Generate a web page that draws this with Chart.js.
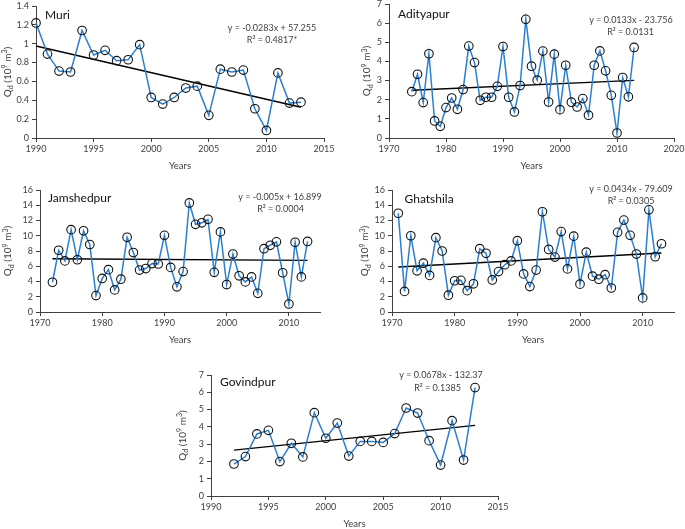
<!DOCTYPE html>
<html><head><meta charset="utf-8">
<script src="https://cdn.jsdelivr.net/npm/chart.js@4.4.1/dist/chart.umd.min.js"></script>
<style>
html,body{margin:0;padding:0;background:#fff;overflow:hidden;width:685px;height:529px;position:relative}
canvas{position:absolute}
</style></head><body>
<canvas id="c0"></canvas><canvas id="c1"></canvas><canvas id="c2"></canvas><canvas id="c3"></canvas><canvas id="c4"></canvas>
<script>
// ---------- DATA ----------
const muriYears = [1990,1991,1992,1993,1994,1995,1996,1997,1998,1999,2000,2001,2002,2003,2004,2005,2006,2007,2008,2009,2010,2011,2012,2013];
const muriQd    = [1.22,0.89,0.71,0.70,1.14,0.88,0.93,0.82,0.83,0.99,0.43,0.36,0.43,0.53,0.55,0.24,0.73,0.70,0.72,0.31,0.08,0.69,0.37,0.38];
const muriXTicks = [1990,1995,2000,2005,2010,2015];
const muriYTicks = [0,0.2,0.4,0.6,0.8,1,1.2,1.4];

const adityapurYears = [1974,1975,1976,1977,1978,1979,1980,1981,1982,1983,1984,1985,1986,1987,1988,1989,1990,1991,1992,1993,1994,1995,1996,1997,1998,1999,2000,2001,2002,2003,2004,2005,2006,2007,2008,2009,2010,2011,2012,2013];
const adityapurQd    = [2.42,3.33,1.85,4.40,0.89,0.61,1.59,2.09,1.50,2.53,4.80,3.94,1.97,2.13,2.13,2.70,4.78,2.13,1.36,2.74,6.20,3.75,3.02,4.54,1.88,4.38,1.48,3.80,1.87,1.62,2.06,1.19,3.80,4.55,3.51,2.23,0.26,3.16,2.15,4.73];
const adityapurXTicks = [1970,1980,1990,2000,2010,2020];
const adityapurYTicks = [0,1,2,3,4,5,6,7];

const jamshedpurYears = [1972,1973,1974,1975,1976,1977,1978,1979,1980,1981,1982,1983,1984,1985,1986,1987,1988,1989,1990,1991,1992,1993,1994,1995,1996,1997,1998,1999,2000,2001,2002,2003,2004,2005,2006,2007,2008,2009,2010,2011,2012,2013];
const jamshedpurQd    = [3.9,8.1,6.7,10.8,6.85,10.65,8.85,2.15,4.4,5.55,2.9,4.3,9.8,7.8,5.5,5.7,6.35,6.3,10.05,5.85,3.3,5.3,14.3,11.5,11.7,12.15,5.2,10.5,3.6,7.6,4.75,3.95,4.6,2.45,8.3,8.75,9.2,5.15,1.05,9.15,4.6,9.25];
const jamshedpurXTicks = [1970,1980,1990,2000,2010];
const jamshedpurYTicks = [0,2,4,6,8,10,12,14,16];

const ghatshilaYears = [1971,1972,1973,1974,1975,1976,1977,1978,1979,1980,1981,1982,1983,1984,1985,1986,1987,1988,1989,1990,1991,1992,1993,1994,1995,1996,1997,1998,1999,2000,2001,2002,2003,2004,2005,2006,2007,2008,2009,2010,2011,2012,2013];
const ghatshilaQd    = [12.95,2.7,10.0,5.4,6.4,4.8,9.75,8.0,2.2,4.1,4.15,2.8,3.7,8.3,7.7,4.2,5.3,6.2,6.7,9.35,5.0,3.33,5.5,13.15,8.2,7.2,10.55,5.65,9.95,3.65,7.85,4.7,4.3,4.9,3.15,10.45,12.05,10.05,7.6,1.85,13.4,7.25,8.95];
const ghatshilaXTicks = [1970,1980,1990,2000,2010];
const ghatshilaYTicks = [0,2,4,6,8,10,12,14,16];

const govindpurYears = [1992,1993,1994,1995,1996,1997,1998,1999,2000,2001,2002,2003,2004,2005,2006,2007,2008,2009,2010,2011,2012,2013];
const govindpurQd    = [1.85,2.28,3.59,3.80,1.99,3.05,2.26,4.82,3.34,4.22,2.31,3.16,3.16,3.10,3.61,5.09,4.80,3.20,1.79,4.36,2.08,6.27];
const govindpurXTicks = [1990,1995,2000,2005,2010,2015];
const govindpurYTicks = [0,1,2,3,4,5,6,7];

const stationNames = ['Muri','Adityapur','Jamshedpur','Ghatshila','Govindpur'];
const equations = ['y = -0.0283x + 57.255','y = 0.0133x - 23.756','y = -0.005x + 16.899','y = 0.0434x - 79.609','y = 0.0678x - 132.37'];
const rSquared  = ['R\u00B2 = 0.4817*','R\u00B2 = 0.0131','R\u00B2 = 0.0004','R\u00B2 = 0.0305','R\u00B2 = 0.1385'];

// ---------- STYLE / LAYOUT ----------
const FAM = 'Lato, "Liberation Sans", Arial, sans-serif';
const AX = '#404040', TC = '#404040', BLUE = '#2a7fd0';
const YW = 40, XH = 36, PT = 10, PR = 14;

function linFit(xs, ys){
  const n = xs.length; let sx=0, sy=0, sxx=0, sxy=0;
  for (let i=0;i<n;i++){ sx+=xs[i]; sy+=ys[i]; sxx+=xs[i]*xs[i]; sxy+=xs[i]*ys[i]; }
  const b = (n*sxy - sx*sy)/(n*sxx - sx*sx), a = (sy - b*sx)/n;
  return [{x:xs[0], y:a+b*xs[0]}, {x:xs[n-1], y:a+b*xs[n-1]}];
}

const textPlugin = {
  id: 'panelText',
  afterDraw(chart, args, o){
    const ctx = chart.ctx, a = chart.chartArea;
    const px = X => X - o.L + a.left, py = Y => Y - o.T + a.top;
    ctx.save();
    ctx.textBaseline = 'middle';
    // station name
    ctx.fillStyle = '#111'; ctx.textAlign = 'left';
    ctx.font = '12px ' + FAM;
    ctx.fillText(o.name, px(o.nameX), py(o.nameY));
    // equation
    ctx.fillStyle = TC; ctx.textAlign = 'center';
    ctx.font = '9px ' + FAM;
    ctx.fillText(o.eq, px(o.eqX), py(o.eqY));
    ctx.fillText(o.r2, px(o.r2X), py(o.r2Y));
    // y title with sub/superscripts
    const segs = [['Q',10,0],['d',7,2.5],[' (10',10,0],['9',7,-3.5],[' m',10,0],['3',7,-3.5],[')',10,0]];
    ctx.translate(px(o.ytX), (a.top + a.bottom)/2);
    ctx.rotate(-Math.PI/2);
    ctx.textAlign = 'left'; ctx.textBaseline = 'alphabetic';
    let w = 0;
    segs.forEach(s => { ctx.font = s[1] + 'px ' + FAM; w += ctx.measureText(s[0]).width; });
    let x = -w/2;
    segs.forEach(s => { ctx.font = s[1] + 'px ' + FAM; ctx.fillText(s[0], x, 3.5 + s[2]); x += ctx.measureText(s[0]).width; });
    ctx.restore();
  }
};

function makeChart(id, g, years, vals, xTicks, yTicks, txt){
  const cv = document.getElementById(id);
  const left = g.L - YW, top = g.T - PT;
  const W = g.R - left + PR, H = g.B - top + XH;
  cv.width = W; cv.height = H;
  cv.style.left = left + 'px'; cv.style.top = top + 'px';
  cv.style.width = W + 'px'; cv.style.height = H + 'px';
  const tickFont = {family: FAM, size: 9};
  new Chart(cv, {
    type: 'scatter',
    data: { datasets: [
      { data: years.map((y,i)=>({x:y, y:vals[i]})), showLine:true, borderColor:BLUE, borderWidth:1.5,
        pointRadius:4.3, pointHoverRadius:4.3, pointBorderColor:'#111', pointBorderWidth:1.1,
        pointBackgroundColor:'rgba(0,0,0,0)', clip:false },
      { data: linFit(years, vals), showLine:true, borderColor:'#000', borderWidth:1.4, pointRadius:0, clip:false }
    ]},
    options: {
      responsive:false, animation:false, devicePixelRatio:1,
      layout: { padding: {top:PT, right:PR, left:0, bottom:0} },
      plugins: { legend:{display:false}, tooltip:{enabled:false}, panelText: Object.assign({L:g.L, T:g.T}, txt) },
      scales: {
        x: { type:'linear', min:g.xmin, max:g.xmax,
          afterBuildTicks: s => { s.ticks = xTicks.map(v=>({value:v})); },
          afterFit: s => { s.height = XH; },
          grid: { drawOnChartArea:false, drawTicks:true, tickLength:4, color:AX },
          border: { color:AX, width:1 },
          ticks: { font:tickFont, color:TC, padding:2, maxRotation:0, autoSkip:false, callback: v => String(v) },
          title: { display:true, text:'Years', font:{family:FAM, size:9.5}, color:TC, padding:{top:0, bottom:2} }
        },
        y: { type:'linear', min:g.ymin, max:g.ymax,
          afterBuildTicks: s => { s.ticks = yTicks.map(v=>({value:v})); },
          afterFit: s => { s.width = YW; },
          grid: { drawOnChartArea:false, drawTicks:true, tickLength:4, color:AX },
          border: { color:AX, width:1 },
          ticks: { font:tickFont, color:TC, padding:3, callback: v => String(v) }
        }
      }
    },
    plugins: [textPlugin]
  });
}

makeChart('c0', {L:36, R:324, T:6, B:138, xmin:1990, xmax:2015, ymin:0, ymax:1.4}, muriYears, muriQd, muriXTicks, muriYTicks,
  {name:stationNames[0], nameX:45, nameY:15, eq:equations[0], eqX:272, eqY:28, r2:rSquared[0], r2X:272, r2Y:40, ytX:7});
makeChart('c1', {L:389, R:674, T:4, B:138, xmin:1970, xmax:2020, ymin:0, ymax:7}, adityapurYears, adityapurQd, adityapurXTicks, adityapurYTicks,
  {name:stationNames[1], nameX:398, nameY:14, eq:equations[1], eqX:631, eqY:20, r2:rSquared[1], r2X:630.5, r2Y:32.3, ytX:366.5});
makeChart('c2', {L:40, R:320, T:190, B:312, xmin:1970, xmax:2015, ymin:0, ymax:16}, jamshedpurYears, jamshedpurQd, jamshedpurXTicks, jamshedpurYTicks,
  {name:stationNames[2], nameX:48, nameY:198.5, eq:equations[2], eqX:280, eqY:196.7, r2:rSquared[2], r2X:280.5, r2Y:209.3, ytX:7.5});
makeChart('c3', {L:392, R:674, T:190, B:312, xmin:1970, xmax:2015, ymin:0, ymax:16}, ghatshilaYears, ghatshilaQd, ghatshilaXTicks, ghatshilaYTicks,
  {name:stationNames[3], nameX:404.5, nameY:199, eq:equations[3], eqX:631, eqY:189, r2:rSquared[3], r2X:631, r2Y:200.7, ytX:364.5});
makeChart('c4', {L:211, R:498, T:375, B:496, xmin:1990, xmax:2015, ymin:0, ymax:7}, govindpurYears, govindpurQd, govindpurXTicks, govindpurYTicks,
  {name:stationNames[4], nameX:220, nameY:382.5, eq:equations[4], eqX:441, eqY:375, r2:rSquared[4], r2X:437.5, r2Y:387.7, ytX:182});
</script>
</body></html>
